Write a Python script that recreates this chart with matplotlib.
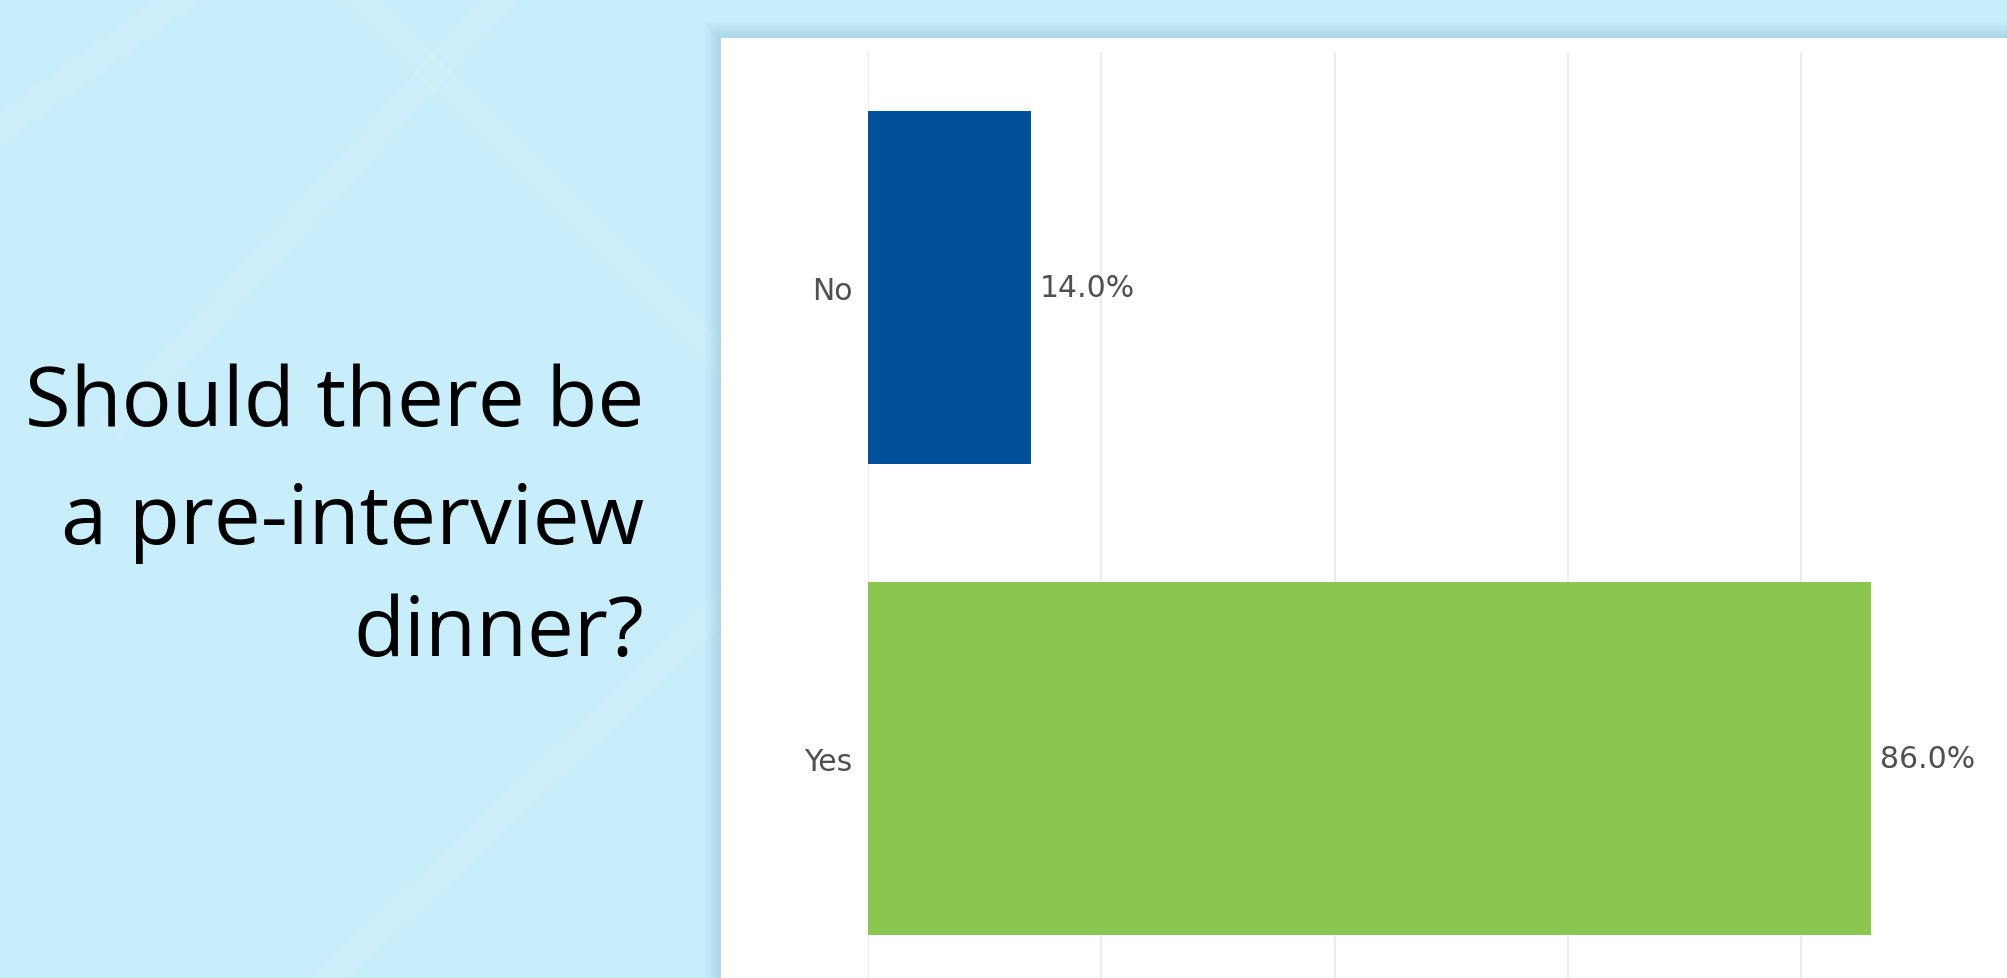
import matplotlib.pyplot as plt
from matplotlib.patches import Rectangle
from matplotlib.lines import Line2D

# data
categories = ['No', 'Yes']
shares = [14.0, 86.0]
bar_colors = ['#00519a', '#8bc750']
title_lines = ['Should there be', 'a pre-interview', 'dinner?']
grid_ticks = [0, 20, 40, 60, 80]

W, H = 2008, 979
fig = plt.figure(figsize=(W / 100, H / 100), dpi=100)
fig.patch.set_facecolor('#c8edfb')

# very faint light streaks in the slide background
streaks = [((360, 0), (730, 370)), ((500, 0), (120, 420)),
           ((730, 600), (330, 979)), ((0, 130), (180, 0))]
for (x0, y0), (x1, y1) in streaks:
    fig.add_artist(Line2D([x0 / W, x1 / W], [1 - y0 / H, 1 - y1 / H],
                          transform=fig.transFigure, color='white', alpha=0.08,
                          lw=20, zorder=-5))

# white chart panel with soft shadow
for k, a in enumerate([0.03, 0.04, 0.05, 0.06, 0.07]):
    off = 16 - k * 3
    fig.add_artist(Rectangle(((721 - off) / W, 0), 1, 1 - (39 - off) / H,
                             transform=fig.transFigure, color='#5a9ab5',
                             alpha=a, lw=0, zorder=-4))
fig.add_artist(Rectangle((721 / W, 0), 1, 1 - 39 / H, transform=fig.transFigure,
                         color='white', lw=0, zorder=-2))

# question text
baselines = [426, 544, 656]
for line, yb in zip(title_lines, baselines):
    fig.text(644 / W, 1 - yb / H, line, ha='right', va='baseline',
             fontsize=60, family='Open Sans', color='black')

ax = fig.add_axes([868 / W, 0, 1140 / W, (979 - 53) / H])
ax.set_facecolor('none')
ypos = list(range(len(categories)))
ax.barh(ypos, shares, height=0.75, color=bar_colors)

ax.set_xticks(grid_ticks)
ax.set_xticklabels([])
ax.tick_params(axis='x', length=0)
ax.grid(axis='x', color='#ebebeb', lw=1.3)
ax.set_axisbelow(True)
ax.set_xlim(0, 97.7)
ax.set_ylim(1.466, -0.5)

ax.set_yticks(ypos)
ax.set_yticklabels(categories, family='DejaVu Sans', fontsize=21.5, color='#505050')
ax.tick_params(axis='y', length=0, pad=11)
for s in ax.spines.values():
    s.set_visible(False)

for y, v in zip(ypos, shares):
    ax.text(v + 0.7, y, f'{v:.1f}%', va='center', ha='left',
            family='DejaVu Sans', fontsize=21.5, color='#505050')

fig.savefig('out.png', dpi=100)
